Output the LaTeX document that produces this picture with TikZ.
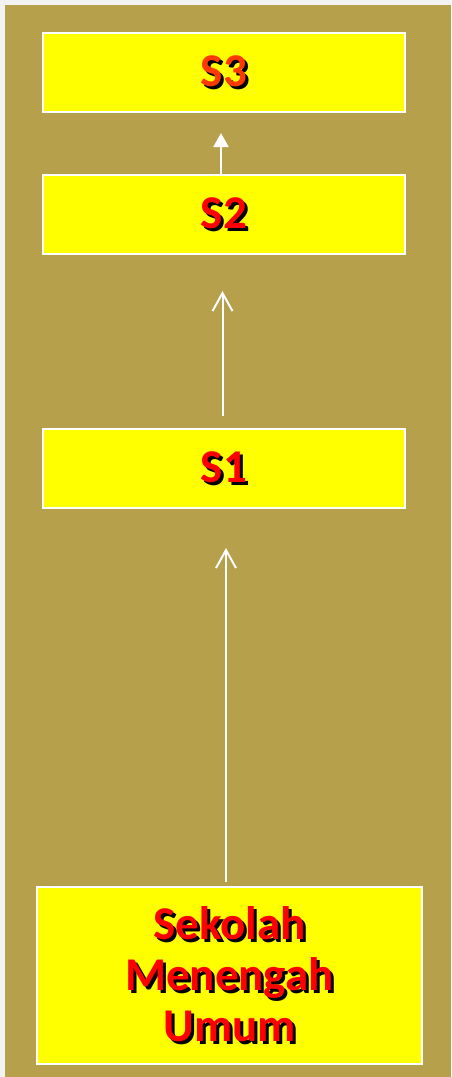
\documentclass[tikz,border=0pt]{standalone}
\usepackage{fontspec}
\setmainfont{Carlito}
\usepackage{xcolor}
\usepackage{tikz}
\usetikzlibrary{positioning, arrows.meta}
\definecolor{olive}{HTML}{B7A04C}
\definecolor{paper}{HTML}{F2F2F2}
\definecolor{boxYellow}{HTML}{FFFF00}
\definecolor{textRed}{HTML}{FF0000}
\definecolor{textOrange}{HTML}{FF3A00}
\newcommand{\shadowed}[2][textRed]{\leavevmode\rlap{\hspace{3pt}\raisebox{-3pt}{\textcolor{black}{#2}}}\textcolor{#1}{#2}}

\begin{document}
\begin{tikzpicture}[x=1pt,y=-1pt]
      \tikzset{levelbox/.style={draw=white,line width=2pt,fill=boxYellow,minimum width=362pt,minimum height=79pt,inner sep=0pt,align=center,font=\bfseries\fontsize{47}{51}\selectfont}, basebox/.style={levelbox,minimum width=385pt,minimum height=177pt}, uparrow/.style={draw=white,line width=2pt}}
      \useasboundingbox (0,0) rectangle (451,1077);
      \fill[paper] (0,0) rectangle (451,1077);
      \fill[olive] (5,5) rectangle (451,1077);
      \node[levelbox] (s3) at (224,72.5) {\shadowed[textOrange]{S3}};
      \node[levelbox] (s2) at (224,214.5) {\shadowed{S2}};
      \node[levelbox] (s1) at (224,468.5) {\shadowed{S1}};
      \node[basebox] (smu) at (229.5,975.5) {\shadowed{Sekolah}\\\shadowed{Menengah}\\\shadowed{Umum}};
      \draw[uparrow,-{Triangle[width=15pt,length=14pt]},shorten >=20pt] ([xshift=-3pt]s2.north) -- ([xshift=-3pt]s3.south);
      \draw[uparrow,-{Straight Barb[width=20pt,length=18pt]},shorten <=12pt,shorten >=36pt] ([xshift=-1.5pt]s1.north) -- ([xshift=-1.5pt]s2.south);
      \draw[uparrow,-{Straight Barb[width=20pt,length=18pt]},shorten <=4pt,shorten >=39pt] ([xshift=-3.5pt]smu.north) -- ([xshift=2pt]s1.south);
    \end{tikzpicture}
\end{document}
